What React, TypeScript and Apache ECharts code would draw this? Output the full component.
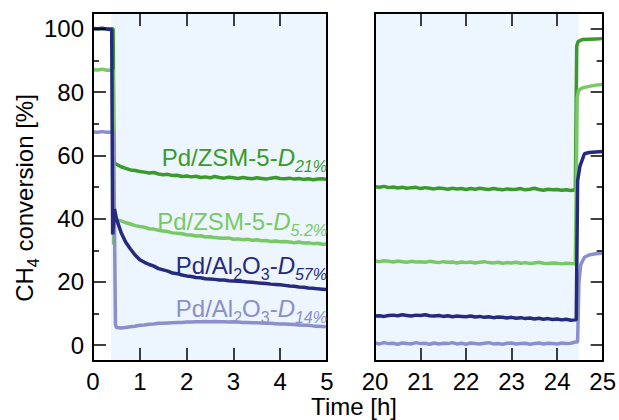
import React, { useEffect, useRef } from "react";
import * as echarts from "echarts";

const FONT = "Liberation Sans, Arial, Helvetica, sans-serif";

const C_NAVY = "#262a7e";
const C_DGREEN = "#3a9a2a";
const C_LGREEN = "#78c966";
const C_LAV = "#8b8fcb";

// Left panel (0-5 h) common time grid after the switch
const tL = [0.5, 0.6, 0.7, 0.8, 0.9, 1.0, 1.1, 1.2, 1.3, 1.4, 1.5, 1.6, 1.7, 1.8, 1.9, 2.0, 2.1, 2.2, 2.3, 2.4, 2.5, 2.6, 2.7, 2.8, 2.9, 3.0, 3.1, 3.2, 3.3, 3.4, 3.5, 3.6, 3.7, 3.8, 3.9, 4.0, 4.1, 4.2, 4.3, 4.4, 4.5, 4.6, 4.7, 4.8, 4.9, 5.0];

const dgreenL = [57.2, 56.4, 55.9, 55.4, 55.2, 54.9, 54.7, 54.4, 54.6, 54.1, 53.9, 54.0, 53.6, 53.7, 53.3, 53.5, 53.2, 53.4, 53.0, 53.2, 52.9, 53.3, 53.0, 52.8, 53.1, 52.9, 52.7, 53.0, 52.8, 52.6, 52.9, 52.7, 52.5, 52.8, 53.0, 52.7, 52.6, 52.8, 52.5, 52.7, 52.4, 52.6, 52.3, 52.5, 52.6, 52.4];
const lgreenL = [39.6, 39.3, 38.7, 38.3, 37.8, 37.5, 37.3, 36.8, 36.7, 36.3, 36.1, 35.9, 35.5, 35.4, 35.2, 34.9, 34.8, 34.5, 34.6, 34.2, 34.3, 34.0, 33.9, 33.8, 33.9, 33.5, 33.6, 33.3, 33.5, 33.2, 33.3, 33.0, 33.1, 32.8, 32.9, 32.7, 32.8, 32.6, 32.4, 32.6, 32.3, 32.4, 32.1, 32.2, 31.9, 32.0];
const navyL = [40.0, 35.6, 32.5, 30.4, 28.5, 27.0, 26.2, 25.5, 25.0, 24.2, 23.8, 23.4, 22.8, 22.6, 22.2, 21.9, 21.7, 21.4, 21.3, 21.0, 20.9, 20.8, 20.6, 20.6, 20.4, 20.3, 20.2, 20.1, 20.0, 19.9, 19.7, 19.6, 19.5, 19.3, 19.2, 19.1, 18.9, 18.7, 18.6, 18.4, 18.3, 18.1, 18.0, 17.8, 17.7, 17.6];
const lavL = [5.6, 5.4, 5.6, 5.8, 6.0, 6.3, 6.4, 6.6, 6.7, 6.9, 6.9, 7.0, 7.1, 7.2, 7.2, 7.3, 7.3, 7.4, 7.4, 7.5, 7.4, 7.5, 7.4, 7.4, 7.3, 7.4, 7.3, 7.2, 7.2, 7.1, 7.1, 7.0, 6.9, 6.9, 6.8, 6.7, 6.7, 6.6, 6.5, 6.4, 6.3, 6.3, 6.1, 6.0, 5.9, 5.8];

// Start-up segments (before the common grid)
const dgreenStart = [[0, 100], [0.1, 100], [0.2, 100], [0.3, 100], [0.43, 100], [0.45, 57.5]];
const lgreenStart = [[0, 87.1], [0.1, 87.0], [0.2, 87.2], [0.3, 86.9], [0.43, 87.0], [0.44, 31.8], [0.46, 40.0]];
const navyStart = [[0, 100.1], [0.1, 100.0], [0.2, 100.2], [0.3, 99.9], [0.4, 99.8], [0.42, 35.0], [0.46, 43.0]];
const lavStart = [[0, 67.4], [0.1, 67.3], [0.2, 67.5], [0.3, 67.3], [0.44, 67.4], [0.48, 6.5]];

// Right panel (20-25 h)
const tR = [20.0, 20.1, 20.2, 20.3, 20.4, 20.5, 20.6, 20.7, 20.8, 20.9, 21.0, 21.1, 21.2, 21.3, 21.4, 21.5, 21.6, 21.7, 21.8, 21.9, 22.0, 22.1, 22.2, 22.3, 22.4, 22.5, 22.6, 22.7, 22.8, 22.9, 23.0, 23.1, 23.2, 23.3, 23.4, 23.5, 23.6, 23.7, 23.8, 23.9, 24.0, 24.1, 24.2, 24.3, 24.4];

const dgreenR = [50.1, 49.9, 50.2, 49.8, 50.0, 49.7, 49.9, 49.6, 49.8, 49.9, 49.5, 49.8, 49.6, 49.4, 49.7, 49.5, 49.3, 49.6, 49.4, 49.5, 49.2, 49.5, 49.3, 49.6, 49.4, 49.2, 49.5, 49.3, 49.1, 49.4, 49.2, 49.3, 49.5, 49.1, 49.3, 49.6, 49.2, 49.0, 49.3, 49.1, 49.2, 49.0, 49.1, 48.9, 49.1];
const lgreenR = [26.6, 26.4, 26.7, 26.5, 26.3, 26.6, 26.4, 26.2, 26.5, 26.3, 26.4, 26.2, 26.5, 26.3, 26.1, 26.4, 26.2, 26.3, 26.0, 26.3, 26.1, 26.3, 26.0, 26.2, 26.4, 26.1, 26.0, 26.2, 25.9, 26.1, 26.0, 26.2, 25.9, 26.1, 25.8, 26.0, 26.2, 25.9, 25.8, 26.0, 25.9, 25.7, 25.9, 25.8, 25.7];
const navyR = [9.2, 9.3, 9.1, 9.4, 9.5, 9.3, 9.6, 9.4, 9.2, 9.5, 9.4, 9.6, 9.3, 9.2, 9.4, 9.1, 9.3, 9.0, 9.2, 9.1, 9.0, 9.2, 8.9, 9.1, 8.8, 9.0, 8.7, 8.9, 8.8, 8.6, 8.8, 8.5, 8.7, 8.4, 8.6, 8.3, 8.5, 8.2, 8.4, 8.1, 8.3, 8.0, 8.2, 7.9, 8.0];
const lavR = [0.7, 0.4, 0.8, 0.5, 0.6, 0.3, 0.7, 0.5, 0.4, 0.8, 0.5, 0.6, 0.3, 0.7, 0.4, 0.6, 0.5, 0.8, 0.4, 0.6, 0.3, 0.7, 0.5, 0.4, 0.6, 0.8, 0.4, 0.5, 0.3, 0.6, 0.7, 0.4, 0.5, 0.6, 0.3, 0.5, 0.7, 0.4, 0.6, 0.5, 0.4, 0.7, 0.5, 0.6, 1.0];

// Recovery after switching back (end of right panel)
const dgreenEnd = [[24.43, 94.5], [24.46, 96.0], [24.55, 96.6], [24.7, 96.7], [24.85, 96.8], [25.0, 96.9]];
const lgreenEnd = [[24.44, 78.0], [24.47, 80.5], [24.55, 81.3], [24.7, 81.8], [24.85, 82.2], [25.0, 82.4]];
const navyEnd = [[24.42, 8.0], [24.45, 52.0], [24.5, 56.5], [24.6, 60.5], [24.7, 60.9], [24.85, 61.1], [25.0, 61.2]];
const lavEnd = [[24.45, 1.0], [24.48, 20.0], [24.52, 25.5], [24.6, 27.8], [24.7, 28.5], [24.85, 28.9], [25.0, 29.1]];

const yMajor = [0, 20, 40, 60, 80, 100];
const yMinor = [10, 30, 50, 70, 90];
const shadeL = [0.39, 5];
const shadeR = [20, 24.48];

const zip = (t: number[], v: number[]) => t.map((x, i) => [x, v[i]]);

export default function App() {
  const ref = useRef<HTMLDivElement>(null);
  useEffect(() => {
    const chart = echarts.init(ref.current!, undefined, { renderer: "svg" });
    const line = { color: "#000", width: 2 };
    const tickStyle = { color: "#000", width: 1.5 };
    const labelStyle = { fontSize: 24, color: "#000", fontFamily: FONT };
    const xAx = (grid: number, pos: string, min: number, max: number, labels: boolean) => ({
      type: "value", gridIndex: grid, position: pos, min, max, interval: 1, z: 10,
      axisLine: { show: true, onZero: false, lineStyle: line },
      axisTick: { show: true, inside: true, length: 13, lineStyle: tickStyle },
      axisLabel: { show: labels, margin: 8, ...labelStyle },
      splitLine: { show: false },
    });
    const yAx = (grid: number, pos: string, opts: any) => ({
      type: "value", gridIndex: grid, position: pos, min: -5, max: 105, z: 10,
      axisLine: { show: opts.line, onZero: false, lineStyle: line },
      axisTick: opts.ticks
        ? { show: true, inside: true, length: opts.len, customValues: opts.ticks, lineStyle: tickStyle }
        : { show: false },
      axisLabel: opts.labels
        ? { show: true, margin: 9, customValues: opts.labels, ...labelStyle }
        : { show: false },
      splitLine: { show: false },
    });
    const ser = (color: string, data: any[], xi: number, yi: number, z: number) => ({
      type: "line", data, xAxisIndex: xi, yAxisIndex: yi, showSymbol: false, symbol: "none",
      lineStyle: { color, width: 3.5 }, itemStyle: { color }, z, silent: true,
    });
    const shade = (range: number[], xi: number, yi: number) => ({
      type: "line", data: [], xAxisIndex: xi, yAxisIndex: yi, z: 1, silent: true,
      markArea: { silent: true, itemStyle: { color: "#edf5fe" }, data: [[{ xAxis: range[0] }, { xAxis: range[1] }]] },
    });
    const rich = (color: string) => ({
      m: { fontSize: 24, fontFamily: FONT, fill: color, verticalAlign: "top" },
      i: { fontSize: 24, fontFamily: FONT, fontStyle: "italic", fill: color, verticalAlign: "top" },
      s: { fontSize: 16, fontFamily: FONT, fill: color, padding: [13, 0, 0, 0], verticalAlign: "top" },
      si: { fontSize: 16, fontFamily: FONT, fontStyle: "italic", fill: color, padding: [13, 0, 0, 0], verticalAlign: "top" },
    });
    const label = (text: string, color: string, y: number) => ({
      type: "text", x: 327, y, z: 50,
      style: { text, rich: rich(color), align: "right", verticalAlign: "top", fill: color, fontSize: 24, fontFamily: FONT },
    });

    chart.setOption({
      animation: false,
      backgroundColor: "#fff",
      grid: [
        { left: 93, top: 13, width: 234, height: 348 },
        { left: 375, top: 13, width: 233, height: 348 },
      ],
      xAxis: [
        xAx(0, "bottom", 0, 5, true),
        xAx(0, "top", 0, 5, false),
        xAx(1, "bottom", 20, 25, true),
        xAx(1, "top", 20, 25, false),
      ],
      yAxis: [
        yAx(0, "left", { line: true, ticks: yMajor, len: 13, labels: yMajor }),
        yAx(0, "left", { line: false, ticks: yMinor, len: 6 }),
        yAx(0, "right", { line: true }),
        yAx(1, "left", { line: true }),
        yAx(1, "right", { line: true, ticks: yMajor, len: 12 }),
        yAx(1, "right", { line: false, ticks: yMinor, len: 6 }),
      ],
      series: [
        shade(shadeL, 0, 0),
        shade(shadeR, 2, 3),
        ser(C_DGREEN, [...dgreenStart, ...zip(tL, dgreenL)], 0, 0, 3),
        ser(C_LGREEN, [...lgreenStart, ...zip(tL, lgreenL)], 0, 0, 4),
        ser(C_LAV, [...lavStart, ...zip(tL, lavL)], 0, 0, 5),
        ser(C_NAVY, [...navyStart, ...zip(tL, navyL)], 0, 0, 6),
        ser(C_DGREEN, [...zip(tR, dgreenR), ...dgreenEnd], 2, 3, 3),
        ser(C_LGREEN, [...zip(tR, lgreenR), ...lgreenEnd], 2, 3, 4),
        ser(C_LAV, [...zip(tR, lavR), ...lavEnd], 2, 3, 5),
        ser(C_NAVY, [...zip(tR, navyR), ...navyEnd], 2, 3, 6),
      ],
      graphic: [
        label("{m|Pd/ZSM-5-}{i|D}{si|21%}", C_DGREEN, 145),
        label("{m|Pd/ZSM-5-}{i|D}{si|5.2%}", C_LGREEN, 209),
        label("{m|Pd/Al}{s|2}{m|O}{s|3}{m|-}{i|D}{si|57%}", C_NAVY, 253),
        label("{m|Pd/Al}{s|2}{m|O}{s|3}{m|-}{i|D}{si|14%}", C_LAV, 296),
        {
          type: "text", x: 27, y: 198, rotation: Math.PI / 2, z: 50,
          style: { text: "{m|CH}{s|4}{m| conversion [%]}", rich: rich("#000"), align: "center", verticalAlign: "middle", fill: "#000", fontSize: 24, fontFamily: FONT },
        },
        {
          type: "text", x: 354, y: 406, z: 50,
          style: { text: "Time [h]", align: "center", verticalAlign: "middle", fill: "#000", fontSize: 24, fontFamily: FONT },
        },
      ],
    });
    return () => chart.dispose();
  }, []);
  return <div ref={ref} style={{ position: "fixed", left: 0, top: 0, width: 619, height: 420, background: "#fff" }} />;
}
